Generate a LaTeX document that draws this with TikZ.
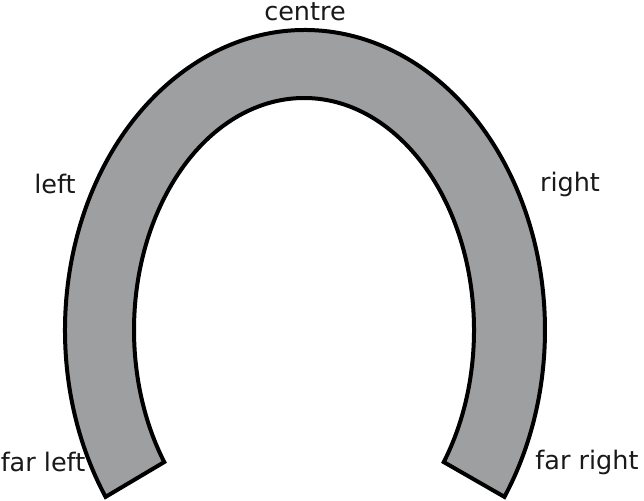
\documentclass[tikz,border=0pt]{standalone}
\usepackage{fontspec}
\setmainfont{DejaVu Sans}
\usetikzlibrary{calc}
\definecolor{shoe}{RGB}{158,159,160}
\begin{document}
\begin{tikzpicture}[x=1pt,y=1pt,
  lbl/.style={font=\fontsize{25.5}{30}\selectfont, inner sep=0pt, text=black!90}]
\useasboundingbox (0,0) rectangle (644,500);
\fill[white] (0,0) rectangle (644,500);
\draw[line width=4pt, line join=miter, fill=shoe]
  (305,170) ++(213.8:240 and 300) arc[start angle=213.8, end angle=-33.8, x radius=240, y radius=300]
  -- ($(304,170)+(-34.7:170 and 232)$)
  arc[start angle=-34.7, end angle=214.7, x radius=170, y radius=232] -- cycle;
\node[lbl] (centre) at (305,488) {centre};
\node[lbl] (left) at (55,316) {left};
\node[lbl] (right) at (570,316) {right};
\node[lbl] (farleft) at (43,38) {far left};
\node[lbl] (farright) at (587,38) {far right};
\end{tikzpicture}
\end{document}
